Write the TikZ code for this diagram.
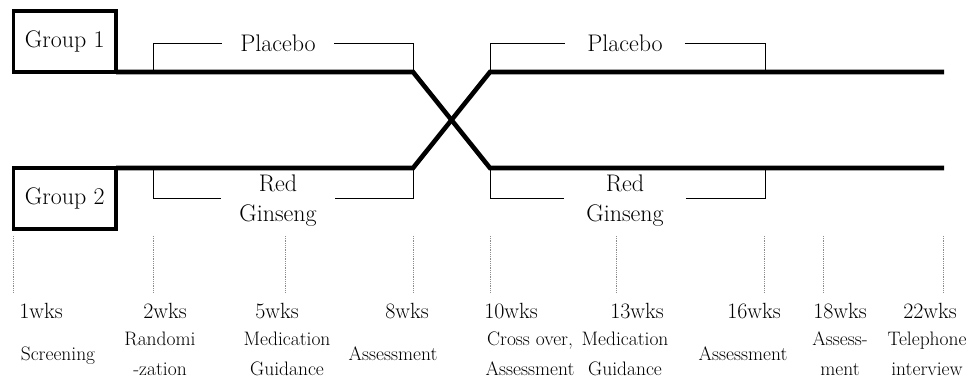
\documentclass[tikz,border=0pt]{standalone}
\usepackage{fontspec}
\tikzset{
  grpbox/.style={draw, line width=3.2pt, minimum width=102.5pt, minimum height=61pt,
    inner sep=0pt, outer sep=0pt, font=\fontsize{24}{28}\selectfont},
  bar/.style={line width=4.6pt},
  brk/.style={line width=0.9pt},
  tick/.style={densely dotted, line width=0.8pt, black!45},
  arm/.style={inner xsep=18.5pt, inner ysep=0pt, align=center, font=\fontsize{24}{30}\selectfont},
  wk/.style={anchor=base, inner sep=0pt, font=\fontsize{22}{26}\selectfont},
  desc/.style={inner sep=0pt, align=center, font=\fontsize{19.5}{30}\selectfont},
}
\begin{document}
\begin{tikzpicture}[x=1pt,y=-1pt]
    \useasboundingbox (0,0) rectangle (979,380);
    % groups and the two arms
    \node[grpbox] (grp1) at (64.75,41.5) {Group 1};
    \node[grpbox] (grp2) at (64.75,198.5) {Group 2};
    \coordinate (rnd1) at (153,72);
    \coordinate (rnd2) at (153,168);
    \coordinate (sw1) at (413,72);
    \coordinate (sw2) at (413,168);
    \coordinate (co1) at (490,72);
    \coordinate (co2) at (490,168);
    \coordinate (fin1) at (765,72);
    \coordinate (fin2) at (765,168);
    \coordinate (end1) at (944,72);
    \coordinate (end2) at (944,168);
    \draw[bar] (grp1.south east) -- (sw1) -- (co2) -- (end2);
    \draw[bar] (grp2.north east) -- (sw2) -- (co1) -- (end1);
    % treatment brackets
    \node[arm] (plac1) at (278,43) {Placebo};
    \node[arm, inner xsep=22pt] (plac2) at (625,43) {Placebo};
    \node[arm] (rg1) at (278,201) {Red\\Ginseng};
    \node[arm, inner xsep=22pt] (rg2) at (625,201) {Red\\Ginseng};
    \draw[brk] (rnd1) |- (plac1.west);
    \draw[brk] (plac1.east) -| (sw1);
    \draw[brk] (co1) |- (plac2.west);
    \draw[brk] (plac2.east) -| (fin1);
    \draw[brk] (rnd2) |- ([yshift=3pt]rg1.west);
    \draw[brk] ([yshift=3pt]rg1.east) -| (sw2);
    \draw[brk] (co2) |- ([yshift=3pt]rg2.west);
    \draw[brk] ([yshift=3pt]rg2.east) -| (fin2);
    % time axis
    \foreach \x in {13,153,285,413,490,616,764,823,943}
        \draw[tick] (\x,236) -- (\x,292);
    \foreach \x/\w in {41/1,165/2,277/5,407/8,511/10,637/13,754/16,840/18,930/22}
        \node[wk] (wk\w) at (\x,318) {\w wks};
    \node[desc, anchor=base] (scr) at (58,360) {Screening};
    \node[desc, anchor=north] (rnd) at (160,331.5) {Randomi\\-zation};
    \node[desc, anchor=north] (med1) at (287,331.5) {Medication\\Guidance};
    \node[desc, anchor=base] (ass1) at (393,360) {Assessment};
    \node[desc, anchor=north] (cross) at (530,331.5) {Cross over,\\Assessment};
    \node[desc, anchor=north] (med2) at (625,331.5) {Medication\\Guidance};
    \node[desc, anchor=base] (ass2) at (743,360) {Assessment};
    \node[desc, anchor=north] (ass3) at (840,331.5) {Assess-\\ment};
    \node[desc, anchor=north] (tel) at (927,331.5) {Telephone\\interview};
\end{tikzpicture}
\end{document}
